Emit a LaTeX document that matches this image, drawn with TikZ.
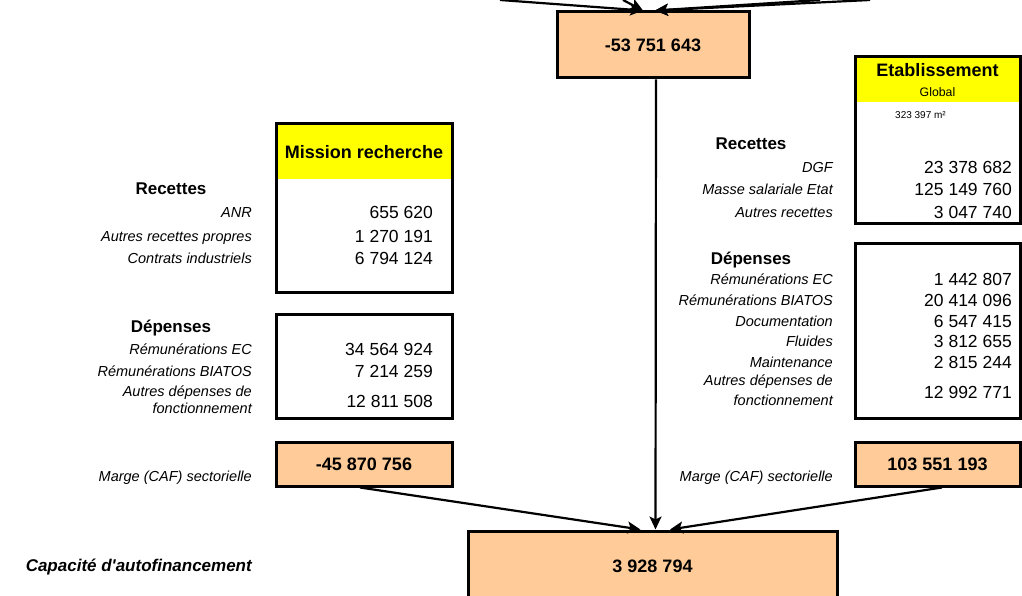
\documentclass[tikz,border=0pt]{standalone}
\usepackage{fontspec}
\setmainfont{Liberation Sans}
\usetikzlibrary{arrows.meta, positioning}
\definecolor{caffill}{HTML}{FFCC99}
\definecolor{headfill}{HTML}{FFFF00}
\tikzset{
  box/.style     = {rectangle, draw=black, line width=3pt, inner sep=0pt},
  cafbox/.style  = {box, fill=caffill, font=\fontsize{18}{20}\selectfont\bfseries},
  headbox/.style = {rectangle, fill=headfill, inner sep=0pt},
  headlab/.style = {inner sep=0pt, font=\fontsize{18}{20}\selectfont\bfseries},
  sectlab/.style = {anchor=base, yshift=-6pt, inner sep=0pt, font=\fontsize{17}{20}\selectfont\bfseries},
  rowlab/.style  = {anchor=base east, yshift=-5.2pt, inner sep=0pt, font=\fontsize{14.5}{17}\selectfont\itshape},
  twolab/.style  = {anchor=east, inner sep=0pt, align=right, font=\fontsize{14.5}{17}\selectfont\itshape},
  rowval/.style  = {anchor=base east, yshift=-6.3pt, inner sep=0pt, font=\fontsize{17.5}{20}\selectfont},
  flow/.style    = {-{Stealth[length=13pt, width=12pt, inset=3pt]}, line width=2.2pt},
}

\begin{document}
\begin{tikzpicture}[x=1pt, y=-1pt]
  \useasboundingbox (0,0) rectangle (1022,596);
  \clip (0,0) rectangle (1022,596);

  % ---- boxes ----
  \node[cafbox, minimum width=192pt, minimum height=66pt] (net) at (653,45) {-53 751 643};

  \node[headbox, minimum width=176pt, minimum height=55pt] (mrhead) at (364,151.5) {};
  \node[box, minimum width=176pt, minimum height=168pt] (mrrec) at (364,208) {};
  \node[headlab] (mrtitle) at (364,152) {Mission recherche};
  \node[box, minimum width=176pt, minimum height=104pt] (mrdep) at (364,366) {};
  \node[cafbox, minimum width=176pt, minimum height=44pt] (mrmarge) at (364,464) {-45 870 756};

  \node[headbox, minimum width=165pt, minimum height=45pt] (ethead) at (937.5,79.5) {};
  \node[box, minimum width=165pt, minimum height=166pt] (etrec) at (937.5,140) {};
  \node[headlab] (ettitle) at (937.5,70) {Etablissement};
  \node[inner sep=0pt, font=\fontsize{12.3}{14}\selectfont] (etglobal) at (937.5,92) {Global};
  \node[anchor=base west, yshift=-3.6pt, inner sep=0pt, font=\fontsize{10}{12}\selectfont] (etsurf) at (895,115) {323 397 m²};
  \node[box, minimum width=165pt, minimum height=175pt] (etdep) at (937.5,330.5) {};
  \node[cafbox, minimum width=165pt, minimum height=44pt] (etmarge) at (937.5,464) {103 551 193};

  \node[cafbox, minimum width=369pt, minimum height=70pt] (caf) at (652.5,566) {3 928 794};

  % ---- Mission recherche ----
  \node[sectlab] (mrreclab) at (171,189) {Recettes};
  \foreach \i/\lab/\val/\y in {1/ANR/655 620/212, 2/Autres recettes propres/1 270 191/236, 3/Contrats industriels/6 794 124/258}{
    \node[rowlab] (mrl\i) at (252,\y) {\lab};
    \node[rowval] (mrv\i) at (433,\y) {\val};
  }
  \node[sectlab] (mrdeplab) at (171,326) {Dépenses};
  \foreach \i/\lab/\val/\y in {1/Rémunérations EC/34 564 924/349, 2/Rémunérations BIATOS/7 214 259/371}{
    \node[rowlab] (mrdl\i) at (252,\y) {\lab};
    \node[rowval] (mrdv\i) at (433,\y) {\val};
  }
  \node[twolab] (mrdl3) at (252,399.5) {Autres dépenses de\\fonctionnement};
  \node[rowval] (mrdv3) at (433,401) {12 811 508};
  \node[rowlab] (mrmlab) at (252,476) {Marge (CAF) sectorielle};

  % ---- Etablissement ----
  \node[sectlab] (etreclab) at (751,144) {Recettes};
  \foreach \i/\lab/\val/\y in {1/DGF/23 378 682/167, 2/Masse salariale Etat/125 149 760/189, 3/Autres recettes/3 047 740/212}{
    \node[rowlab] (etl\i) at (833,\y) {\lab};
    \node[rowval] (etv\i) at (1012,\y) {\val};
  }
  \node[sectlab] (etdeplab) at (751,258) {Dépenses};
  \foreach \i/\lab/\val/\y in {1/Rémunérations EC/1 442 807/279, 2/Rémunérations BIATOS/20 414 096/300, 3/Documentation/6 547 415/321, 4/Fluides/3 812 655/341, 5/Maintenance/2 815 244/362}{
    \node[rowlab] (etdl\i) at (833,\y) {\lab};
    \node[rowval] (etdv\i) at (1012,\y) {\val};
  }
  \node[twolab] (etdl6) at (833,390.5) {Autres dépenses de\\[3pt]fonctionnement};
  \node[rowval] (etdv6) at (1012,392) {12 992 771};
  \node[rowlab] (etmlab) at (833,476) {Marge (CAF) sectorielle};

  \node[rowlab, font=\fontsize{17}{20}\selectfont\bfseries\itshape] (caflab) at (252,566) {Capacité d\textquotesingle autofinancement};

  % ---- connectors ----
  \coordinate (inA) at (500,0);
  \coordinate (inB) at (623,0);
  \coordinate (inC) at (820,0);
  \coordinate (inD) at (870,0);
  \draw[flow] (inA) -- ([xshift=-10pt]net.north);
  \draw[flow] (inB) -- ([xshift=-10pt]net.north);
  \draw[flow] (inC) -- ([xshift=2pt]net.north);
  \draw[flow] (inD) -- ([xshift=2pt]net.north);
  \draw[flow] ([xshift=3pt]net.south) -- ([xshift=3pt]caf.north);
  \draw[flow] ([xshift=-4pt]mrmarge.south) -- ([xshift=-12pt]caf.north);
  \draw[flow] ([xshift=4.5pt]etmarge.south) -- ([xshift=17.5pt]caf.north);
\end{tikzpicture}
\end{document}
